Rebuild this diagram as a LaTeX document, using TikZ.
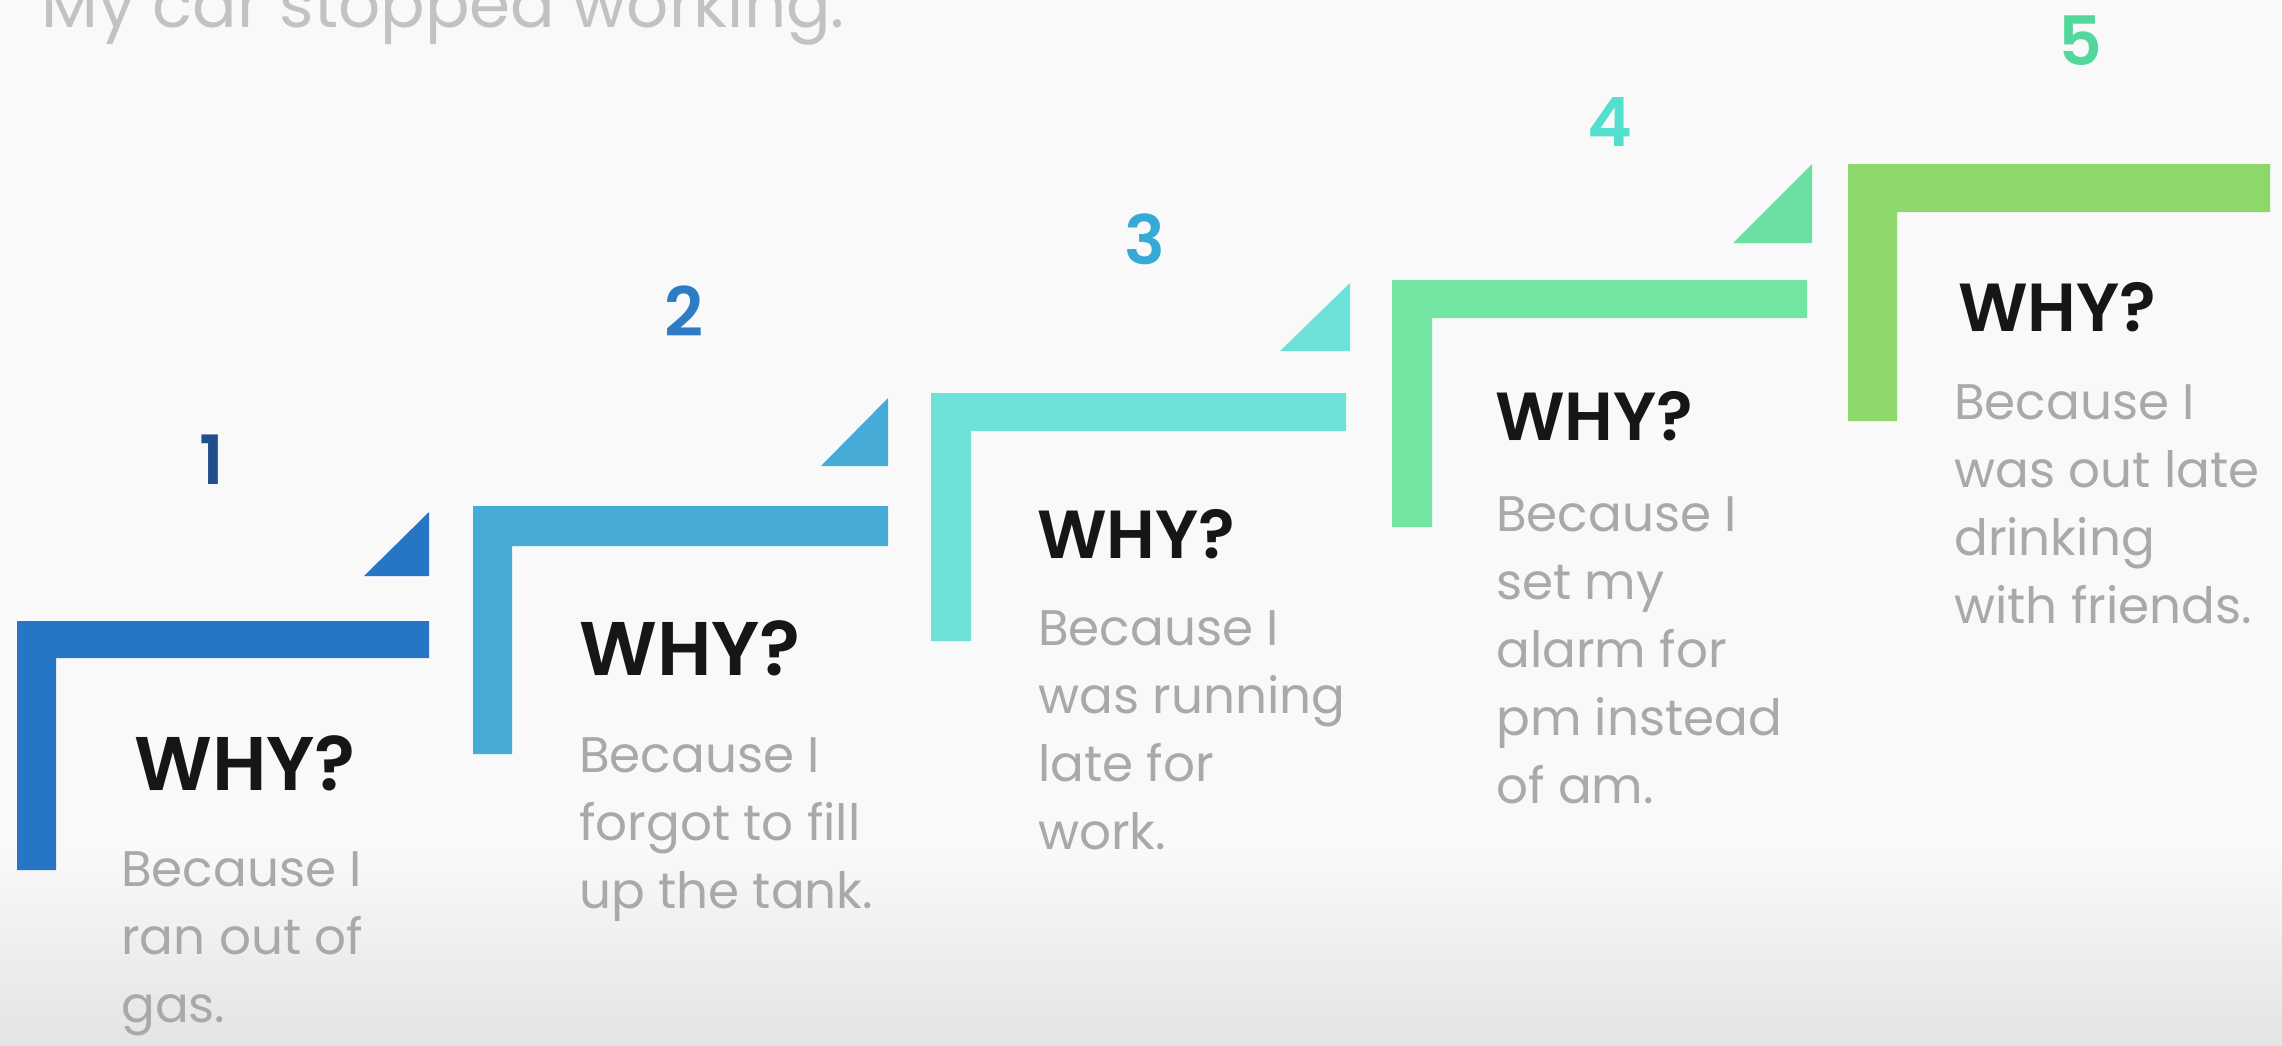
\documentclass[tikz,border=0pt]{standalone}
\usepackage{fontspec}
\setmainfont{Poppins}
\newfontfamily\whyfont{Poppins SemiBold}
\definecolor{bgc}{HTML}{F9F9F9}
\definecolor{bgb}{HTML}{E4E4E4}
\definecolor{cA}{HTML}{2776C6}
\definecolor{cB}{HTML}{46ABD6}
\definecolor{cC}{HTML}{6DE2D8}
\definecolor{cD}{HTML}{72E5A3}
\definecolor{cDt}{HTML}{6CDFA2}
\definecolor{cE}{HTML}{8ED76B}
\definecolor{nA}{HTML}{1F4F8C}
\definecolor{nB}{HTML}{2F7CC6}
\definecolor{nC}{HTML}{36A9D4}
\definecolor{nD}{HTML}{52DFD0}
\definecolor{nE}{HTML}{52D79D}
\definecolor{whyc}{HTML}{161616}
\definecolor{bodyc}{HTML}{A9A9A9}
\definecolor{titlec}{HTML}{C2C2C2}
\newcommand\stk[1]{\vtop{\baselineskip=68pt\lineskip=0pt\lineskiplimit=-1000pt\halign{##\hfil\cr#1\crcr}}}
\tikzset{
  whybig/.style={anchor=base west, inner sep=0pt, text=whyc, font=\whyfont\fontsize{76}{90}\selectfont},
  whysmall/.style={anchor=base west, inner sep=0pt, text=whyc, font=\whyfont\fontsize{68}{80}\selectfont},
  bodytext/.style={anchor=base west, inner sep=0pt, text=bodyc, font=\fontsize{50}{68}\selectfont},
  numtext/.style={anchor=center, inner sep=0pt, font=\whyfont\fontsize{68}{80}\selectfont},
  titletext/.style={anchor=base west, inner sep=0pt, text=titlec, font=\fontsize{66}{80}\selectfont}
}
\begin{document}
\begin{tikzpicture}[x=1pt,y=-1pt]
\useasboundingbox (0,0) rectangle (2282,1045);
\fill[bgc] (0,0) rectangle (2282,1045);
\shade[top color=bgc, bottom color=bgb] (0,850) rectangle (2282,1045);

% title
\node[titletext] (title) at (41,27) {My car stopped working.};

% bracket 1
\fill[cA] (17,621) -- (429,621) -- (429,658) -- (56,658) -- (56,870) -- (17,870) -- cycle;
\fill[cA] (429,512) -- (429,576) -- (364,576) -- cycle;
% bracket 2
\fill[cB] (473,506) -- (888,506) -- (888,546) -- (512,546) -- (512,754) -- (473,754) -- cycle;
\fill[cB] (888,398) -- (888,466) -- (821,466) -- cycle;
% bracket 3
\fill[cC] (931,393) -- (1346,393) -- (1346,431) -- (971,431) -- (971,641) -- (931,641) -- cycle;
\fill[cC] (1350,283) -- (1350,351) -- (1280,351) -- cycle;
% bracket 4
\fill[cD] (1392,280) -- (1807,280) -- (1807,318) -- (1432,318) -- (1432,527) -- (1392,527) -- cycle;
\fill[cDt] (1812,164) -- (1812,243) -- (1733,243) -- cycle;
% bracket 5
\fill[cE] (1848,164) -- (2270,164) -- (2270,212) -- (1897,212) -- (1897,421) -- (1848,421) -- cycle;

% numbers
\node[numtext, text=nA] (n1) at (212,460) {1};
\node[numtext, text=nB] (n2) at (684,311) {2};
\node[numtext, text=nC] (n3) at (1145,239) {3};
\node[numtext, text=nD] (n4) at (1610,122) {4};
\node[numtext, text=nE] (n5) at (2080,41) {5};

% WHY?
\node[whybig] (w1) at (134,790) {WHY?};
\node[whybig] (w2) at (579,675) {WHY?};
\node[whysmall] (w3) at (1037,558) {WHY?};
\node[whysmall] (w4) at (1495,440) {WHY?};
\node[whysmall] (w5) at (1958,331) {WHY?};

% reasons
\node[bodytext] (t1) at (121,886) {\stk{Because I\cr ran out of\cr gas.}};
\node[bodytext] (t2) at (579,772) {\stk{Because I\cr forgot to fill\cr up the tank.}};
\node[bodytext] (t3) at (1038,645) {\stk{Because I\cr was running\cr late for\cr work.}};
\node[bodytext] (t4) at (1496,531) {\stk{Because I\cr set my\cr alarm for\cr pm instead\cr of am.}};
\node[bodytext] (t5) at (1954,419) {\stk{Because I\cr was out late\cr drinking\cr with friends.}};
\end{tikzpicture}
\end{document}
